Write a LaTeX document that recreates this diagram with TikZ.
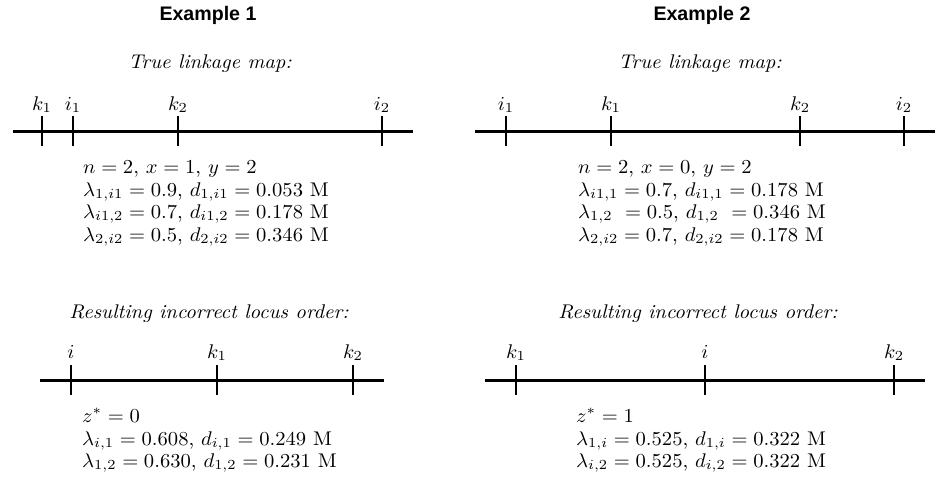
\documentclass[tikz,border=0pt]{standalone}
\usepackage{fontspec}
\newfontfamily\titlefont{Liberation Sans}
\newcommand{\sbx}[1]{\scalebox{2.06}[1.98]{#1}}
\begin{document}
\begin{tikzpicture}[x=1pt,y=-1pt,
  txt/.style={font=\fontsize{10}{12}\selectfont, inner sep=0pt, anchor=base west},
  ttl/.style={font=\titlefont\bfseries\fontsize{19.6}{22}\selectfont, inner sep=0pt, anchor=base},
  captxt/.style={font=\fontsize{10}{12}\selectfont\itshape, inner sep=0pt, anchor=base},
  lbl/.style={font=\fontsize{10}{12}\selectfont, inner sep=0pt, anchor=base},
  axisline/.style={line width=3pt},
  tickline/.style={line width=1.3pt}]
\useasboundingbox (0,0) rectangle (943,483);

% ---------- Example 1 ----------
\node[ttl] (t1) at (208,20) {Example 1};
\node[captxt] (c1) at (210,68) {\sbx{True linkage map:}};
\coordinate (a1s) at (13,131); \coordinate (a1e) at (413,131);
\draw[axisline] (a1s) -- (a1e);
\foreach \x/\n/\l in {42/a/{k_1},73/b/{i_1},178/c/{k_2},382/d/{i_2}}{
  \coordinate (e1\n t) at (\x,116); \coordinate (e1\n b) at (\x,146);
  \draw[tickline] (e1\n t) -- (e1\n b);
  \node[lbl] (e1\n l) at (\x,110) {\sbx{$\l$}};
}
\node[txt] (p1a) at (83,173) {\sbx{$n=2$, $x=1$, $y=2$}};
\node[txt] (p1b) at (83,196) {\sbx{$\lambda_{1,i1}=0.9$, $d_{1,i1}=0.053$ M}};
\node[txt] (p1c) at (83,218) {\sbx{$\lambda_{i1,2}=0.7$, $d_{i1,2}=0.178$ M}};
\node[txt] (p1d) at (83,241) {\sbx{$\lambda_{2,i2}=0.5$, $d_{2,i2}=0.346$ M}};

\node[captxt] (r1) at (209,318) {\sbx{Resulting incorrect locus order:}};
\coordinate (b1s) at (40,380); \coordinate (b1e) at (384,380);
\draw[axisline] (b1s) -- (b1e);
\foreach \x/\n/\l in {71/a/{i},217/b/{k_1},353/c/{k_2}}{
  \coordinate (f1\n t) at (\x,365); \coordinate (f1\n b) at (\x,395);
  \draw[tickline] (f1\n t) -- (f1\n b);
  \node[lbl] (f1\n l) at (\x,358) {\sbx{$\l$}};
}
\node[txt] (q1a) at (82,422) {\sbx{$z^*=0$}};
\node[txt] (q1b) at (82,445) {\sbx{$\lambda_{i,1}=0.608$, $d_{i,1}=0.249$ M}};
\node[txt] (q1c) at (82,467) {\sbx{$\lambda_{1,2}=0.630$, $d_{1,2}=0.231$ M}};

% ---------- Example 2 ----------
\node[ttl] (t2) at (702,20) {Example 2};
\node[captxt] (c2) at (700,68) {\sbx{True linkage map:}};
\coordinate (a2s) at (475,131); \coordinate (a2e) at (935,131);
\draw[axisline] (a2s) -- (a2e);
\foreach \x/\n/\l in {506/a/{i_1},611/b/{k_1},800/c/{k_2},904/d/{i_2}}{
  \coordinate (e2\n t) at (\x,116); \coordinate (e2\n b) at (\x,146);
  \draw[tickline] (e2\n t) -- (e2\n b);
  \node[lbl] (e2\n l) at (\x,110) {\sbx{$\l$}};
}
\node[txt] (p2a) at (578,173) {\sbx{$n=2$, $x=0$, $y=2$}};
\node[txt] (p2b) at (578,196) {\sbx{$\lambda_{i1,1}=0.7$, $d_{i1,1}=0.178$ M}};
\node[txt] (p2c) at (578,218) {\sbx{$\lambda_{1,2}\ =0.5$, $d_{1,2}\ =0.346$ M}};
\node[txt] (p2d) at (578,241) {\sbx{$\lambda_{2,i2}=0.7$, $d_{2,i2}=0.178$ M}};

\node[captxt] (r2) at (698,318) {\sbx{Resulting incorrect locus order:}};
\coordinate (b2s) at (485,380); \coordinate (b2e) at (925,380);
\draw[axisline] (b2s) -- (b2e);
\foreach \x/\n/\l in {516/a/{k_1},705/b/{i},894/c/{k_2}}{
  \coordinate (f2\n t) at (\x,365); \coordinate (f2\n b) at (\x,395);
  \draw[tickline] (f2\n t) -- (f2\n b);
  \node[lbl] (f2\n l) at (\x,358) {\sbx{$\l$}};
}
\node[txt] (q2a) at (576,422) {\sbx{$z^*=1$}};
\node[txt] (q2b) at (576,445) {\sbx{$\lambda_{1,i}=0.525$, $d_{1,i}=0.322$ M}};
\node[txt] (q2c) at (576,467) {\sbx{$\lambda_{i,2}=0.525$, $d_{i,2}=0.322$ M}};
\end{tikzpicture}
\end{document}
